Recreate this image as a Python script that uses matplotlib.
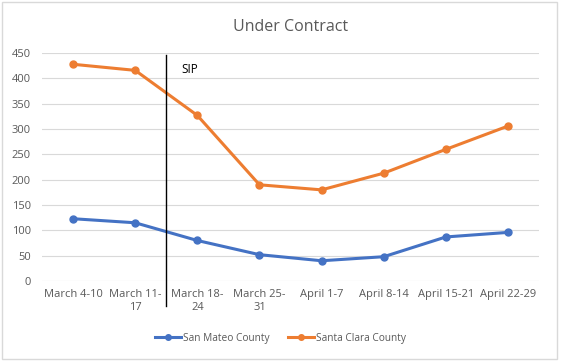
import matplotlib
matplotlib.use("Agg")
import matplotlib.pyplot as plt
from matplotlib.patches import Rectangle

categories = ["March 4-10", "March 11-\n17", "March 18-\n24", "March 25-\n31",
              "April 1-7", "April 8-14", "April 15-21", "April 22-29"]
san_mateo = [123, 115, 80, 52, 40, 48, 87, 96]
santa_clara = [428, 416, 327, 190, 180, 213, 260, 306]
yticks = [0, 50, 100, 150, 200, 250, 300, 350, 400, 450]

plt.rcParams['font.family'] = ['Open Sans', 'DejaVu Sans']

fig = plt.figure(figsize=(5.61, 3.64), dpi=100)
ax = fig.add_axes([0.0749, 0.228, 0.886, 0.626])

x = list(range(len(categories)))
ax.plot(x, san_mateo, color="#4472C4", lw=2.2, marker="o", ms=5, label="San Mateo County")
ax.plot(x, santa_clara, color="#ED7D31", lw=2.2, marker="o", ms=5, label="Santa Clara County")

ax.set_xlim(-0.5, 7.5)
ax.set_ylim(0, 450)
ax.set_yticks(yticks)
ax.set_yticklabels([str(v) for v in yticks])
ax.set_xticks(x)
ax.set_xticklabels(categories)
ax.grid(axis="y", color="#D9D9D9", lw=0.8)
ax.set_axisbelow(True)
for s in ax.spines.values():
    s.set_visible(False)
ax.tick_params(axis="both", length=0, labelsize=8, colors="#595959")
ax.tick_params(axis="x", pad=6)
ax.tick_params(axis="y", pad=8)

# SIP line
ax.plot([1.5, 1.5], [-49, 446], color="black", lw=1, clip_on=False)
ax.text(1.75, 418, "SIP", fontsize=8.5, color="black", va="center", ha="left")

ax.set_title("Under Contract", fontsize=11.5, color="#595959", pad=16)

leg = fig.legend(loc="lower center", bbox_to_anchor=(0.5, 0.03), ncol=2, frameon=False,
                 fontsize=7.3, labelcolor="#595959", handlelength=2.6, columnspacing=1.8,
                 handletextpad=0.2, markerscale=0.8)

fig.patches.append(Rectangle((0.003, 0.015), 0.99, 0.98, transform=fig.transFigure,
                             fill=False, edgecolor="#D9D9D9", lw=1))

fig.savefig("out.png", dpi=100)
